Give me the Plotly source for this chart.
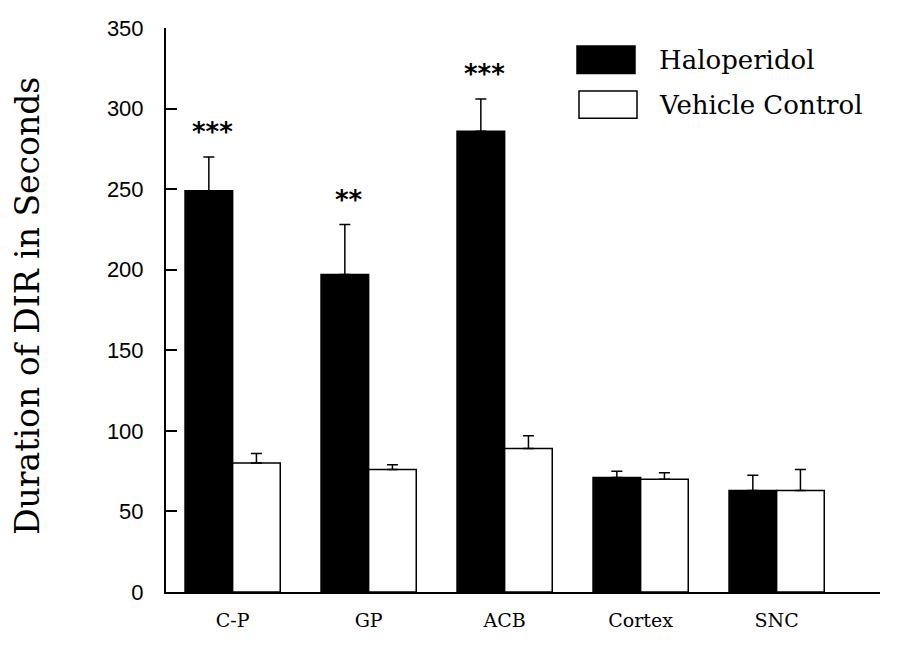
import plotly.graph_objects as go

categories = ["C-P", "GP", "ACB", "Cortex", "SNC"]
haloperidol = [249, 197, 286, 71, 63]
haloperidol_err = [21, 31, 20, 4, 9.5]
vehicle = [80, 76, 89, 70, 63]
vehicle_err = [6, 3, 8, 4, 13]
significance = ["***", "**", "***", "", ""]
y_ticks = [0, 50, 100, 150, 200, 250, 300, 350]

# figure size chosen so the page fits the window with little rescaling
W, H = 882, 631
SCALE, TOP = 0.986, 15.4          # measured page -> picture mapping (vertical)
FY_TOP, FY_BOT = 8.2, 593.9       # plot area top / bottom in figure pixels
PH = FY_BOT - FY_TOP
SX0, SX1 = 166, 880               # plot area left / right in picture pixels


def px(sx):
    return (sx - SX0) / (SX1 - SX0)


def py(sy):
    fy = (sy - TOP) / SCALE
    return (FY_BOT - fy) / PH


fig = go.Figure()
fig.add_trace(go.Bar(
    x=categories, y=haloperidol, name="Haloperidol",
    marker=dict(color="black", line=dict(color="black", width=1.5)),
    error_y=dict(type="data", array=haloperidol_err, arrayminus=[0] * 5,
                 symmetric=False, color="black", thickness=1.5, width=5.5),
    showlegend=False,
))
fig.add_trace(go.Bar(
    x=categories, y=vehicle, name="Vehicle Control",
    marker=dict(color="white", line=dict(color="black", width=1.5)),
    error_y=dict(type="data", array=vehicle_err, arrayminus=[0] * 5,
                 symmetric=False, color="black", thickness=1.5, width=5.5),
    showlegend=False,
))

annotations = []
for i, (c, s) in enumerate(zip(categories, significance)):
    if s:
        annotations.append(dict(
            x=c, y=haloperidol[i] + haloperidol_err[i], xref="x", yref="y",
            text=s, showarrow=False, xanchor="center", yanchor="bottom",
            xshift=-20, yshift=8,
            font=dict(family="DejaVu Sans", size=26, color="black", weight="bold"),
        ))

annotations.append(dict(
    x=px(28), y=py(308), xref="paper", yref="paper", text="Duration of DIR in Seconds",
    textangle=-90, showarrow=False, xanchor="center", yanchor="middle",
    font=dict(family="DejaVu Serif", size=33, color="black"),
))

legend_font = dict(family="DejaVu Serif", size=26, color="black")
annotations.append(dict(x=px(657), y=py(56), xref="paper", yref="paper",
                        text="Haloperidol", showarrow=False, xanchor="left",
                        yanchor="middle", font=legend_font))
annotations.append(dict(x=px(657), y=py(102), xref="paper", yref="paper",
                        text="Vehicle Control", showarrow=False, xanchor="left",
                        yanchor="middle", font=legend_font))

shapes = [
    dict(type="rect", xref="paper", yref="paper", x0=px(577), x1=px(635),
         y0=py(70), y1=py(42), fillcolor="black", line=dict(color="black", width=1.5)),
    dict(type="rect", xref="paper", yref="paper", x0=px(579), x1=px(637),
         y0=py(116), y1=py(88), fillcolor="white", line=dict(color="black", width=1.5)),
]

fig.update_layout(
    width=W, height=H,
    margin=dict(l=SX0 - 8, r=W - (SX1 - 8), t=FY_TOP, b=H - FY_BOT, pad=0),
    plot_bgcolor="white", paper_bgcolor="white",
    barmode="group", bargap=0.30, bargroupgap=0,
    annotations=annotations, shapes=shapes,
    xaxis=dict(
        range=[-0.49, 4.76], showline=True, linecolor="black", linewidth=2,
        ticks="", showgrid=False, zeroline=False,
        tickfont=dict(family="DejaVu Serif", size=19, color="black"),
        ticklabelstandoff=10,
    ),
    yaxis=dict(
        range=[0, 350], tickvals=y_ticks, ticktext=[str(v) for v in y_ticks],
        showline=True, linecolor="black", linewidth=2,
        ticks="inside", ticklen=11, tickwidth=1.5, tickcolor="black",
        showgrid=False, zeroline=False, ticklabeloverflow="allow",
        tickfont=dict(family="Liberation Sans", size=22, color="black"),
        ticklabelstandoff=16,
    ),
)

fig.write_html("out.html")
